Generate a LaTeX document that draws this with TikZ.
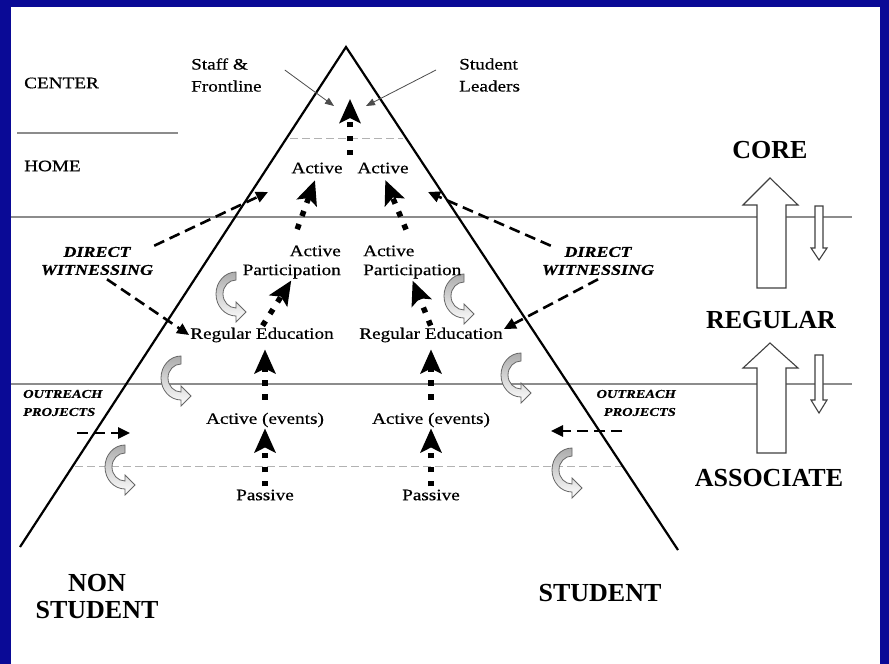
\documentclass[tikz,border=0pt]{standalone}
\usepackage{fontspec}
\setmainfont{Liberation Serif}
\newfontfamily\widefont[FakeStretch=1.2,FakeBold=0.5]{Liberation Serif}
\usetikzlibrary{arrows.meta,calc}
\definecolor{frameblue}{RGB}{10,10,150}
\definecolor{rulegray}{RGB}{140,140,140}
\begin{document}
\begin{tikzpicture}[x=1pt,y=-1pt,
  small/.style={font=\widefont\fontsize{16}{19}\selectfont, inner sep=1pt},
  wit/.style={font=\widefont\bfseries\itshape\fontsize{15}{18}\selectfont, inner sep=1pt, align=center},
  outr/.style={font=\widefont\bfseries\itshape\fontsize{12}{18}\selectfont, inner sep=1pt},
  big/.style={font=\bfseries\fontsize{26}{27}\selectfont, inner sep=1pt, align=center},
  rule/.style={draw=rulegray, line width=1.4pt},
  lightdash/.style={draw=gray!60, line width=0.9pt, dash pattern=on 8pt off 4pt},
  dotarrow/.style={line width=5.5pt, dash pattern=on 5.5pt off 8.5pt, -{Stealth[width=21pt,length=24pt,inset=5pt]}},
  witarrow/.style={line width=2.6pt, dash pattern=on 11pt off 6pt, -{Triangle[width=11pt,length=12pt]}},
  thinarrow/.style={draw=black!70, line width=0.8pt, -{Triangle[width=7pt,length=9pt]}},
  hollow/.style={draw=black!75, line width=1.1pt, fill=white},
  curvearrow/.pic={
    \shade[top color=gray!65, bottom color=white, draw=black!60, line width=0.8pt]
      (0,0) arc[start angle=-90, end angle=-270, x radius=20, y radius=22]
      -- (0,50) -- (10,40) -- (0,30) -- (0,36)
      arc[start angle=90, end angle=270, x radius=13, y radius=14] -- cycle;
  },
]
\useasboundingbox (0,0) rectangle (889,664);
\fill[white] (0,0) rectangle (889,664);
% frame
\fill[frameblue] (0,0) rectangle (11,664);
\fill[frameblue] (0,0) rectangle (889,7);
\fill[frameblue] (880,0) rectangle (889,664);

% rules
\draw[rule] (11,217) -- (852,217);
\draw[rule] (11,384) -- (852,384);
\draw[rule] (17,133) -- (178,133);
\draw[lightdash] (290,138) -- (403,138);
\draw[lightdash] (75,466) -- (622,466);

% pyramid
\draw[line width=2.2pt, line join=miter] (20,547) -- (346,47) -- (678,550);

% curved arrows
\begin{scope}[shift={(236,272)}] \pic {curvearrow}; \end{scope}
\begin{scope}[shift={(464,274)}, xscale=-1] \pic {curvearrow}; \end{scope}
\begin{scope}[shift={(181,356)}] \pic {curvearrow}; \end{scope}
\begin{scope}[shift={(521,353)}, xscale=-1] \pic {curvearrow}; \end{scope}
\begin{scope}[shift={(125,445)}] \pic {curvearrow}; \end{scope}
\begin{scope}[shift={(572,448)}, xscale=-1] \pic {curvearrow}; \end{scope}

% left labels
\node[small, anchor=west] (center) at (23,83) {CENTER};
\node[small, anchor=west] (home) at (23,166) {HOME};
\node[small, anchor=west, align=left, font=\widefont\fontsize{16}{22}\selectfont] (staff) at (190,75) {Staff \&\\Frontline};
\node[small, anchor=west, align=left, font=\widefont\fontsize{16}{22}\selectfont] (lead) at (458,75) {Student\\Leaders};

% pyramid labels
\node[small] (actL) at (317,168) {Active};
\node[small] (actR) at (383,168) {Active};
\node[small, anchor=east, align=right] (partL) at (342,262) {Active\\Participation};
\node[small, anchor=west, align=left] (partR) at (362,262) {Active\\Participation};
\node[small] (regL) at (262,335) {Regular Education};
\node[small] (regR) at (431,335) {Regular Education};
\node[small] (evL) at (265,420) {Active (events)};
\node[small] (evR) at (431,420) {Active (events)};
\node[small] (passL) at (265,495) {Passive};
\node[small] (passR) at (431,495) {Passive};

\node[wit] (dwL) at (97,261) {DIRECT\\WITNESSING};
\node[wit] (dwR) at (598,261) {DIRECT\\WITNESSING};
\node[outr, anchor=west, align=left] (outL) at (22,403) {OUTREACH\\PROJECTS};
\node[outr, anchor=east, align=right] (outR) at (677,403) {OUTREACH\\PROJECTS};

\node[big] (core) at (770,150) {CORE};
\node[big] (regular) at (771,320) {REGULAR};
\node[big] (assoc) at (769,478) {ASSOCIATE};
\node[big] (nonst) at (97,597) {NON\\STUDENT};
\node[big] (stud) at (600,593) {STUDENT};

% coordinates
\coordinate (ctop) at (350,99);
\coordinate (cbot) at (350,155);
\coordinate (stafftip) at (334,106);
\coordinate (leadtip) at (366,106);
\coordinate (dwLtip) at (268,192);
\coordinate (dwRtip) at (428,192);
\coordinate (oLs) at (77,433);
\coordinate (oLe) at (130,433);
\coordinate (oRs) at (622,431);
\coordinate (oRe) at (551,431);

% dotted progress arrows
\draw[dotarrow] (cbot) -- (ctop);
\draw[dotarrow, shorten <=2pt] (passL.north) -- (evL.south);
\draw[dotarrow, shorten <=2pt] (passR.north) -- (evR.south);
\draw[dotarrow, shorten <=12pt, shorten >=6pt] (evL.north) -- (evL.north |- regL.south);
\draw[dotarrow, shorten <=12pt, shorten >=6pt] (evR.north) -- (evR.north |- regR.south);
\draw[dotarrow, shorten <=1pt, shorten >=1pt] (regL.north) -- (partL.south);
\draw[dotarrow, shorten <=1pt, shorten >=1pt] (regR.north) -- (partR.south);
\draw[dotarrow, shorten <=16pt, shorten >=6pt] (partL.north) -- (actL.south);
\draw[dotarrow, shorten <=16pt, shorten >=6pt] (partR.north) -- (actR.south);

% thin arrows
\draw[thinarrow] ($(staff.east)+(22,-5)$) -- (stafftip);
\draw[thinarrow] ($(lead.west)+(-22,-5)$) -- (leadtip);

% witnessing arrows
\draw[witarrow] (dwL.north east) -- (dwLtip);
\draw[witarrow] ($(dwL.south)+(10,3)$) -- (regL.west);
\draw[witarrow] ($(dwR.north west)+(10,0)$) -- (dwRtip);
\draw[witarrow] ($(dwR.south)+(0,3)$) -- ($(regR.east)+(0,-6)$);
\draw[witarrow] (oLs) -- (oLe);
\draw[witarrow] (oRs) -- (oRe);

% hollow level arrows
\draw[hollow] (757,288) -- (757,205) -- (743,205) -- (770,178) -- (798,205) -- (786,205) -- (786,288) -- cycle;
\draw[hollow] (815,206) -- (815,248) -- (811,248) -- (819,260) -- (827,248) -- (823,248) -- (823,206) -- cycle;
\draw[hollow] (757,453) -- (757,368) -- (743,368) -- (770,343) -- (798,368) -- (786,368) -- (786,453) -- cycle;
\draw[hollow] (815,355) -- (815,400) -- (811,400) -- (819,413) -- (827,400) -- (823,400) -- (823,355) -- cycle;
\end{tikzpicture}
\end{document}
